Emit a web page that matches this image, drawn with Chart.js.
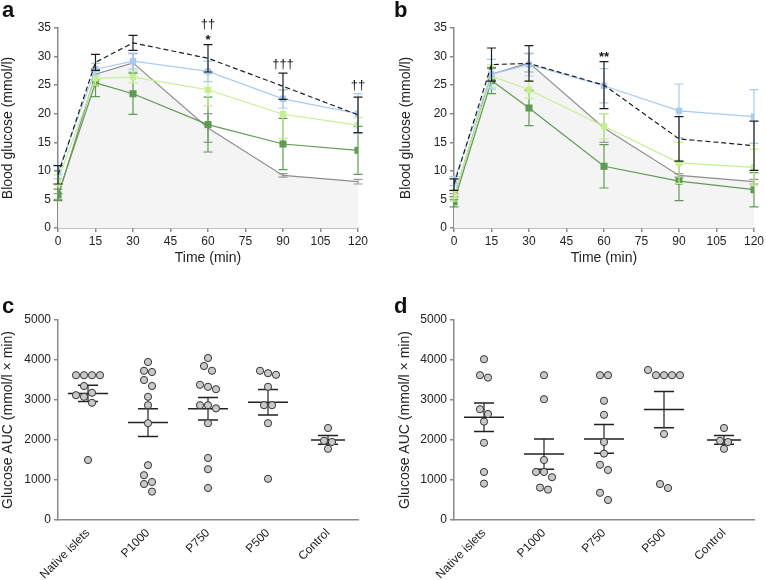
<!DOCTYPE html>
<html><head><meta charset="utf-8">
<script src="https://cdn.jsdelivr.net/npm/chart.js@4/dist/chart.umd.min.js"></script>
<style>
html,body{margin:0;padding:0;background:#fff;}
body{width:766px;height:580px;position:relative;overflow:hidden;font-family:"Liberation Sans",Arial,sans-serif;}
.p{position:absolute;}
.lbl{position:absolute;font-weight:bold;font-size:22px;line-height:24px;color:#111;}
</style></head><body>
<div class="p" style="left:0;top:0"><canvas id="ca" width="383" height="270"></canvas></div>
<div class="p" style="left:383px;top:0"><canvas id="cb" width="383" height="270"></canvas></div>
<div class="p" style="left:0;top:270px"><canvas id="cc" width="383" height="310"></canvas></div>
<div class="p" style="left:383px;top:270px"><canvas id="cd" width="383" height="310"></canvas></div>
<div class="lbl" style="left:2px;top:-2px">a</div>
<div class="lbl" style="left:394px;top:-2px">b</div>
<div class="lbl" style="left:2px;top:294px">c</div>
<div class="lbl" style="left:394px;top:294px">d</div>
<script>
// ---------- data ----------
const time = [0, 15, 30, 60, 90, 120];

const aNative = [9.3, 29.0, 32.4, 29.7, 24.8, 19.8];
const aNativeErr = [1.6, 1.4, 1.3, 2.4, 2.3, 3.1];
const aP1000 = [9.8, 27.8, 29.2, 27.4, 22.6, 20.0];
const aP1000Err = [1.2, 1.0, 1.4, 1.8, 1.6, 3.5];
const aP750 = [8.4, 26.2, 26.4, 24.2, 19.9, 18.0];
const aP750Err = [0.9, 1.2, 1.0, 2.8, 4.2, 1.3];
const aP500 = [5.8, 25.4, 23.5, 18.1, 14.7, 13.6];
const aP500Err = [1.0, 2.4, 3.6, 4.8, 4.5, 4.2];
const aControl = [5.5, 26.9, 28.9, 17.5, 9.2, 8.1];
const aControlErr = [0.5, 1.0, 1.6, 2.5, 0.3, 0.4];

const bNative = [7.6, 28.6, 28.8, 25.0, 15.6, 14.4];
const bNativeErr = [1.0, 2.9, 3.1, 4.1, 3.9, 4.3];
const bP1000 = [8.2, 26.9, 28.6, 24.9, 20.5, 19.5];
const bP1000Err = [0.8, 2.6, 2.0, 3.0, 4.7, 4.7];
const bP750 = [5.6, 26.6, 24.2, 17.8, 11.4, 10.6];
const bP750Err = [0.9, 2.0, 1.5, 2.2, 3.6, 3.2];
const bP500 = [4.6, 25.8, 21.0, 10.8, 8.2, 6.7];
const bP500Err = [0.9, 2.3, 3.1, 3.8, 3.4, 3.0];
const bControl = [5.5, 26.9, 28.9, 17.5, 9.2, 8.1];
const bControlErr = [0.5, 1.0, 1.6, 2.5, 0.3, 0.4];

const aMarks = [{t: 60, text: ['††', '*']}, {t: 90, text: ['†††']}, {t: 120, text: ['††']}];
const bMarks = [{t: 60, text: ['**']}];

const groups = ['Native islets', 'P1000', 'P750', 'P500', 'Control'];
const cNative = [3620, 3620, 3620, 3620, 3350, 3180, 3120, 3080, 2930, 1500];
const cP1000 = [3950, 3730, 3700, 3500, 3350, 3080, 2870, 2420, 1370, 1120, 950, 900, 710];
const cP750 = [4050, 3850, 3730, 3380, 3330, 3270, 2870, 2870, 2790, 2420, 1550, 1270, 800];
const cP500 = [3730, 3670, 3630, 3330, 2870, 2870, 2420, 1030];
const cControl = [2300, 1980, 1950, 1780];
const dNative = [4020, 3620, 3560, 2770, 2650, 2460, 1930, 1200, 910];
const dP1000 = [3620, 3020, 1500, 1200, 1200, 1070, 810, 760];
const dP750 = [3620, 3620, 2980, 2630, 1950, 1660, 1380, 1250, 680, 500];
const dP500 = [3750, 3620, 3620, 3620, 3620, 2150, 900, 800];
const dControl = [2300, 1980, 1950, 1780];

// ---------- styling ----------
Chart.defaults.font.family = '"Liberation Sans", Arial, sans-serif';
Chart.defaults.color = '#222';
const AX = '#8a8a8a';
const TICKFONT = {size: 12};
const TITLEFONT = {size: 14};
const C_NATIVE = '#1e1e1e', C_P1000 = '#a9cbef', C_P750 = '#c4f092', C_P500 = '#5f9b53', C_CTRL = '#8e8e8e';

const errPlugin = {
  id: 'errbars',
  beforeDatasetDraw(chart, args) {
    const ds = chart.data.datasets[args.index];
    if (!ds.errors) return;
    const xs = chart.scales.x, ys = chart.scales.y, ctx = chart.ctx;
    ctx.save();
    ctx.strokeStyle = ds.errColor; ctx.lineWidth = 1.2; ctx.setLineDash([]);
    ds.data.forEach((p, i) => {
      const e = ds.errors[i];
      const px = xs.getPixelForValue(p.x);
      const top = ys.getPixelForValue(p.y + e), bot = ys.getPixelForValue(p.y - e);
      ctx.beginPath();
      ctx.moveTo(px, top); ctx.lineTo(px, bot);
      ctx.moveTo(px - 4.5, top); ctx.lineTo(px + 4.5, top);
      ctx.moveTo(px - 4.5, bot); ctx.lineTo(px + 4.5, bot);
      ctx.stroke();
    });
    ctx.restore();
  }
};

function marksPlugin(marks) {
  return {
    id: 'marks',
    afterDraw(chart) {
      const xs = chart.scales.x, ys = chart.scales.y, ctx = chart.ctx;
      ctx.save();
      ctx.fillStyle = '#111'; ctx.textAlign = 'center'; ctx.textBaseline = 'alphabetic';
      marks.forEach(m => {
        let topVal = -Infinity;
        chart.data.datasets.forEach(ds => {
          const i = ds.data.findIndex(p => p.x === m.t);
          if (i >= 0) topVal = Math.max(topVal, ds.data[i].y + ds.errors[i]);
        });
        const top = ys.getPixelForValue(topVal);
        const px = xs.getPixelForValue(m.t);
        let base = null;
        for (let k = m.text.length - 1; k >= 0; k--) {
          const txt = m.text[k];
          const dag = txt.indexOf('†') >= 0;
          if (base === null) base = top - (dag ? 5 : 1);
          else base -= 15.5;
          ctx.font = (dag ? '' : 'bold ') + '13px "Liberation Sans", Arial, sans-serif';
          ctx.fillText(txt, px, base);
        }
      });
      ctx.restore();
    }
  };
}

function lineChart(id, series, marks, pad, yWidth) {
  return new Chart(document.getElementById(id), {
    type: 'line',
    data: {
      datasets: series.map(s => ({
        data: time.map((t, i) => ({x: t, y: s.values[i]})),
        errors: s.errors,
        errColor: s.errColor || s.color,
        borderColor: s.color,
        backgroundColor: s.fill || s.color,
        borderWidth: 1.2,
        borderDash: s.dash || [],
        pointStyle: 'rect',
        pointRadius: s.radius,
        pointBackgroundColor: s.color,
        pointBorderColor: s.color,
        pointBorderWidth: 0,
        fill: s.fill ? 'origin' : false,
        tension: 0
      }))
    },
    options: {
      responsive: false, animation: false, events: [],
      layout: {padding: {left: pad.l, right: pad.r, top: pad.t, bottom: 0}},
      plugins: {legend: {display: false}, tooltip: {enabled: false}},
      scales: {
        x: {
          type: 'linear', min: 0, max: 120,
          ticks: {stepSize: 15, font: TICKFONT, padding: 2, maxRotation: 0},
          grid: {drawOnChartArea: false, drawTicks: true, tickLength: 4, color: AX, lineWidth: 1.5},
          border: {color: AX, width: 1.5},
          title: {display: true, text: 'Time (min)', font: TITLEFONT, padding: {top: 2, bottom: 3}},
          afterFit: s => { s.height = 42; }
        },
        y: {
          min: 0, max: 35,
          ticks: {stepSize: 5, font: TICKFONT, padding: 3},
          grid: {drawOnChartArea: false, drawTicks: true, tickLength: 4, color: AX, lineWidth: 1.5},
          border: {color: AX, width: 1.5},
          title: {display: true, text: 'Blood glucose (mmol/l)', font: TITLEFONT, padding: {top: 0, bottom: 0}},
          afterFit: s => { s.width = yWidth; }
        }
      }
    },
    plugins: [errPlugin, marksPlugin(marks)]
  });
}

function seriesSet(nat, natE, p1, p1E, p7, p7E, p5, p5E, ct, ctE) {
  return [
    {values: nat, errors: natE, color: C_NATIVE, dash: [5, 3], radius: 0},
    {values: p1, errors: p1E, color: C_P1000, radius: 4.5},
    {values: p7, errors: p7E, color: C_P750, radius: 4.5},
    {values: p5, errors: p5E, color: C_P500, radius: 5},
    {values: ct, errors: ctE, color: C_CTRL, errColor: '#9a9a9a', radius: 0, fill: '#f4f4f4'}
  ];
}

lineChart('ca', seriesSet(aNative, aNativeErr, aP1000, aP1000Err, aP750, aP750Err, aP500, aP500Err, aControl, aControlErr),
  aMarks, {l: 0, r: 25, t: 28}, 58);
lineChart('cb', seriesSet(bNative, bNativeErr, bP1000, bP1000Err, bP750, bP750Err, bP500, bP500Err, bControl, bControlErr),
  bMarks, {l: 15, r: 11, t: 28}, 56);

// ---------- dot plots ----------
function swarm(vals) {
  const PX_X = 60, PX_Y = 200 / 5000, S = 8;
  const sorted = [...vals].sort((a, b) => b - a);
  const grps = [];
  sorted.forEach(v => {
    const g = grps[grps.length - 1];
    if (g && (g[0] - v) * PX_Y < S) g.push(v); else grps.push([v]);
  });
  const placed = [];
  grps.forEach(g => {
    const base = g.map((v, k) => (k - (g.length - 1) / 2) * S);
    const shifts = [0, S / 2, -S / 2, S, -S, 1.5 * S, -1.5 * S];
    let chosen = base;
    for (const sh of shifts) {
      const c = base.map(o => o + sh);
      const ok = c.every((o, k) => placed.every(p => Math.hypot(p.o - o, (p.v - g[k]) * PX_Y) >= S - 0.5));
      if (ok) { chosen = c; break; }
    }
    chosen.forEach((o, k) => placed.push({o, v: g[k]}));
  });
  return placed.map(p => ({dx: p.o / PX_X, y: p.v}));
}

function stats(vals) {
  const n = vals.length;
  const m = vals.reduce((a, b) => a + b, 0) / n;
  const sd = Math.sqrt(vals.reduce((a, b) => a + (b - m) * (b - m), 0) / (n - 1));
  return {m, sem: sd / Math.sqrt(n)};
}

function dotChart(id, groupVals, pad, yWidth) {
  const pts = [];
  groupVals.forEach((vals, gi) => swarm(vals).forEach(p => pts.push({x: gi + p.dx, y: p.y})));
  const meanPlugin = {
    id: 'means',
    beforeDatasetsDraw(chart) {
      const xs = chart.scales.x, ys = chart.scales.y, ctx = chart.ctx;
      ctx.save();
      groupVals.forEach((vals, gi) => {
        const st = stats(vals);
        const cx = xs.getPixelForValue(gi);
        const ym = ys.getPixelForValue(st.m);
        const yt = ys.getPixelForValue(st.m + st.sem), yb = ys.getPixelForValue(st.m - st.sem);
        const hw = gi === 4 ? 17 : 20;
        ctx.strokeStyle = '#7a7a7a'; ctx.lineWidth = 2;
        ctx.beginPath(); ctx.moveTo(cx, yt); ctx.lineTo(cx, yb); ctx.stroke();
        ctx.strokeStyle = '#222'; ctx.lineWidth = 1.5;
        ctx.beginPath();
        ctx.moveTo(cx - hw, ym); ctx.lineTo(cx + hw, ym);
        ctx.moveTo(cx - 10, yt); ctx.lineTo(cx + 10, yt);
        ctx.moveTo(cx - 10, yb); ctx.lineTo(cx + 10, yb);
        ctx.stroke();
      });
      ctx.restore();
    }
  };
  return new Chart(document.getElementById(id), {
    type: 'scatter',
    data: {datasets: [{data: pts, pointRadius: 3.6, pointBackgroundColor: '#c9c9c9', pointBorderColor: '#333', pointBorderWidth: 1}]},
    options: {
      responsive: false, animation: false, events: [],
      layout: {padding: {left: pad.l, right: pad.r, top: pad.t, bottom: 0}},
      plugins: {legend: {display: false}, tooltip: {enabled: false}},
      scales: {
        x: {
          type: 'linear', min: -0.5, max: 4.5,
          afterBuildTicks: a => { a.ticks = groups.map((g, i) => ({value: i})); },
          ticks: {callback: v => groups[v], minRotation: 45, maxRotation: 45, autoSkip: false, font: TICKFONT, padding: -2},
          grid: {display: false},
          border: {color: AX, width: 1.5},
          afterFit: s => { s.height = 60; }
        },
        y: {
          min: 0, max: 5000,
          ticks: {stepSize: 1000, font: TICKFONT, padding: 3, callback: v => String(v)},
          grid: {drawOnChartArea: false, drawTicks: true, tickLength: 4, color: AX, lineWidth: 1.5},
          border: {color: AX, width: 1.5},
          title: {display: true, text: 'Glucose AUC (mmol/l × min)', font: TITLEFONT, padding: {top: 0, bottom: 0}},
          afterFit: s => { s.width = yWidth; }
        }
      }
    },
    plugins: [meanPlugin]
  });
}

dotChart('cc', [cNative, cP1000, cP750, cP500, cControl], {l: 0, r: 25, t: 50}, 58);
dotChart('cd', [dNative, dP1000, dP750, dP500, dControl], {l: 14, r: 12, t: 50}, 57);
</script>
</body></html>
